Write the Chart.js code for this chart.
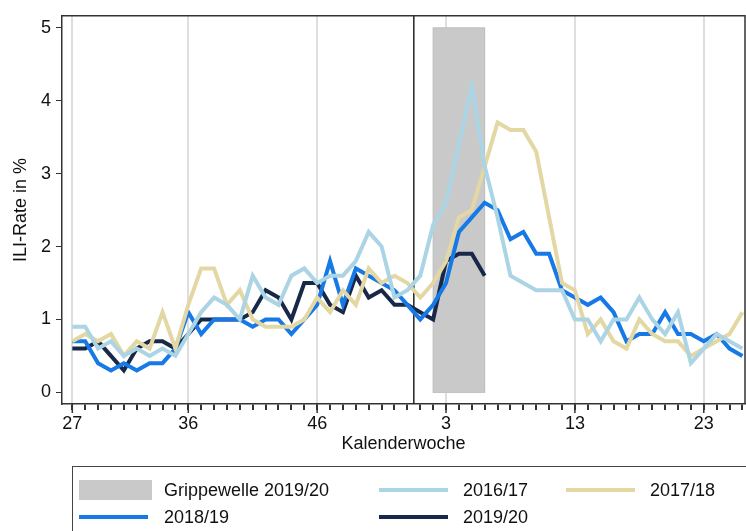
<!DOCTYPE html>
<html>
<head>
<meta charset="utf-8">
<script src="https://cdn.jsdelivr.net/npm/chart.js@4.4.1/dist/chart.umd.min.js"></script>
<style>
  html, body { margin: 0; padding: 0; background: #fff; }
  #wrap { width: 746px; height: 531px; }
</style>
</head>
<body>
<div id="wrap"><canvas id="myChart"></canvas></div>
<script>
// Kalenderwochen, Saison von KW 27 bis KW 26 des Folgejahres
const weeks = [27, 28, 29, 30, 31, 32, 33, 34, 35, 36, 37, 38, 39, 40, 41, 42, 43, 44, 45, 46,
  47, 48, 49, 50, 51, 52, 53, 1, 2, 3, 4, 5, 6, 7, 8, 9, 10, 11, 12, 13, 14, 15, 16, 17, 18, 19,
  20, 21, 22, 23, 24, 25, 26];
const labelWeeks = [27, 36, 46, 3, 13, 23];
const yTicks = [0, 1, 2, 3, 4, 5];

const season1617 = [0.9, 0.9, 0.6, 0.7, 0.5, 0.6, 0.5, 0.6, 0.5, 0.8, 1.1, 1.3, 1.2, 1.0, 1.6,
  1.3, 1.2, 1.6, 1.7, 1.5, 1.6, 1.6, 1.8, 2.2, 2.0, 1.3, 1.4, 1.6,
  2.3, 2.6, 3.4, 4.2, 3.1, 2.4, 1.6, 1.5, 1.4, 1.4, 1.4, 1.0, 1.0,
  0.7, 1.0, 1.0, 1.3, 1.0, 0.8, 1.1, 0.4, 0.6, 0.8, 0.7, 0.6];
const season1718 = [0.7, 0.8, 0.7, 0.8, 0.5, 0.7, 0.6, 1.1, 0.6, 1.2, 1.7, 1.7, 1.2, 1.4, 1.0,
  0.9, 0.9, 0.9, 1.0, 1.3, 1.1, 1.4, 1.2, 1.7, 1.5, 1.6, 1.5, 1.3,
  1.5, 1.8, 2.4, 2.5, 3.1, 3.7, 3.6, 3.6, 3.3, 2.4, 1.5, 1.4, 0.8,
  1.0, 0.7, 0.6, 1.0, 0.8, 0.7, 0.7, 0.5, 0.6, 0.7, 0.8, 1.1];
const season1819 = [0.7, 0.7, 0.4, 0.3, 0.4, 0.3, 0.4, 0.4, 0.6, 1.1, 0.8, 1.0, 1.0, 1.0, 0.9,
  1.0, 1.0, 0.8, 1.0, 1.2, 1.8, 1.2, 1.7, 1.6, 1.5, 1.4, 1.2, 1.0,
  1.2, 1.5, 2.2, 2.4, 2.6, 2.5, 2.1, 2.2, 1.9, 1.9, 1.4, 1.3, 1.2,
  1.3, 1.1, 0.7, 0.8, 0.8, 1.1, 0.8, 0.8, 0.7, 0.8, 0.6, 0.5];
const season1920 = [0.6, 0.6, 0.7, 0.5, 0.3, 0.6, 0.7, 0.7, 0.6, 0.8, 1.0, 1.0, 1.0, 1.0, 1.1,
  1.4, 1.3, 1.0, 1.5, 1.5, 1.2, 1.1, 1.6, 1.3, 1.4, 1.2, 1.2, 1.1,
  1.0, 1.8, 1.9, 1.9, 1.6];

// Grippewelle 2019/20: KW 2 bis KW 6, Jahreswechsel zwischen KW 53 und KW 1
const waveFrom = 2, waveTo = 6;

function toPoints(values) {
  return weeks.map((w, i) => ({ x: i, y: i < values.length ? values[i] : null }));
}

function line(label, values, color) {
  return {
    label: label,
    data: toPoints(values),
    borderColor: color,
    backgroundColor: color,
    borderWidth: 4,
    pointRadius: 0,
    tension: 0,
    spanGaps: false,
    borderJoinStyle: 'miter'
  };
}

const font = "'Liberation Sans', Arial, sans-serif";

const extras = {
  id: 'extras',
  beforeDatasetsDraw(chart) {
    const { ctx, chartArea: a, scales: { x, y } } = chart;
    ctx.save();
    const x0 = x.getPixelForValue(weeks.indexOf(waveFrom));
    const x1 = x.getPixelForValue(weeks.indexOf(waveTo));
    const y0 = y.getPixelForValue(5), y1 = y.getPixelForValue(0);
    ctx.fillStyle = '#c9c9c9';
    ctx.fillRect(x0, y0, x1 - x0, y1 - y0);
    ctx.strokeStyle = '#bcbcbc';
    ctx.lineWidth = 1;
    ctx.strokeRect(x0, y0, x1 - x0, y1 - y0);

    const xb = x.getPixelForValue(weeks.indexOf(1) - 0.5);
    ctx.strokeStyle = '#222';
    ctx.lineWidth = 1.5;
    ctx.beginPath();
    ctx.moveTo(xb, a.top);
    ctx.lineTo(xb, a.bottom);
    ctx.stroke();
    ctx.restore();
  },
  afterDraw(chart) {
    const { ctx, chartArea: a, scales: { x } } = chart;
    ctx.save();
    ctx.strokeStyle = '#333';
    ctx.lineWidth = 1.5;
    ctx.beginPath();
    ctx.moveTo(a.left, a.top);
    ctx.lineTo(a.right, a.top);
    ctx.lineTo(a.right, a.bottom);
    ctx.stroke();

    // längere Striche an den beschrifteten Wochen
    labelWeeks.forEach(w => {
      const px = x.getPixelForValue(weeks.indexOf(w));
      ctx.beginPath();
      ctx.moveTo(px, a.bottom);
      ctx.lineTo(px, a.bottom + 9);
      ctx.stroke();
    });

    // Legende
    ctx.lineWidth = 1;
    ctx.strokeStyle = '#444';
    ctx.strokeRect(72.5, 466.5, 720, 100);
    ctx.font = '18px ' + font;
    ctx.textBaseline = 'middle';
    const ds = chart.data.datasets;
    const items = [
      { text: 'Grippewelle 2019/20', box: true, sx: 79, tx: 164, y: 490 },
      { text: ds[0].label, color: ds[0].borderColor, sx: 379, tx: 463, y: 490 },
      { text: ds[1].label, color: ds[1].borderColor, sx: 566, tx: 650, y: 490 },
      { text: ds[2].label, color: ds[2].borderColor, sx: 79, tx: 164, y: 517 },
      { text: ds[3].label, color: ds[3].borderColor, sx: 379, tx: 463, y: 517 }
    ];
    items.forEach(it => {
      if (it.box) {
        ctx.fillStyle = '#c9c9c9';
        ctx.fillRect(it.sx, it.y - 10, 73, 20);
      } else {
        ctx.strokeStyle = it.color;
        ctx.lineWidth = 4;
        ctx.beginPath();
        ctx.moveTo(it.sx, it.y);
        ctx.lineTo(it.sx + 69, it.y);
        ctx.stroke();
      }
      ctx.fillStyle = '#111';
      ctx.fillText(it.text, it.tx, it.y + 1);
    });
    ctx.restore();
  }
};

new Chart(document.getElementById('myChart'), {
  type: 'line',
  data: {
    datasets: [
      line('2016/17', season1617, '#abd4e4'),
      line('2017/18', season1718, '#e3d7a3'),
      line('2018/19', season1819, '#1679e6'),
      line('2019/20', season1920, '#172848')
    ]
  },
  options: {
    responsive: true,
    maintainAspectRatio: false,
    animation: false,
    layout: { padding: { left: 0, right: 1, top: 7, bottom: 71 } },
    plugins: { legend: { display: false }, tooltip: { enabled: false } },
    scales: {
      x: {
        type: 'linear',
        min: -0.8,
        max: 52.2,
        afterBuildTicks: s => { s.ticks = weeks.map((w, i) => ({ value: i })); },
        afterFit: s => { s.height = 56; },
        ticks: {
          autoSkip: false,
          maxRotation: 0,
          padding: 3,
          color: '#111',
          font: { family: font, size: 18 },
          callback: v => labelWeeks.includes(weeks[v]) ? String(weeks[v]) : ''
        },
        grid: {
          color: c => (c.tick && labelWeeks.includes(weeks[c.tick.value])) ? '#dedede' : 'rgba(0,0,0,0)',
          lineWidth: 2,
          tickColor: '#333',
          tickLength: 6
        },
        border: { display: true, color: '#333', width: 1.5 },
        title: {
          display: true,
          text: 'Kalenderwoche',
          color: '#111',
          font: { family: font, size: 18 },
          padding: { top: 0, bottom: 5 }
        }
      },
      y: {
        min: -0.16,
        max: 5.165,
        afterBuildTicks: s => { s.ticks = yTicks.map(v => ({ value: v })); },
        afterFit: s => { s.width = 62; },
        ticks: {
          padding: 5,
          color: '#111',
          font: { family: font, size: 18 }
        },
        grid: { drawOnChartArea: false, tickColor: '#333', tickLength: 6 },
        border: { display: true, color: '#333', width: 1.5 },
        title: {
          display: true,
          text: 'ILI-Rate in %',
          color: '#111',
          font: { family: font, size: 18 },
          padding: { top: 10, bottom: 0 }
        }
      }
    }
  },
  plugins: [extras]
});
</script>
</body>
</html>
